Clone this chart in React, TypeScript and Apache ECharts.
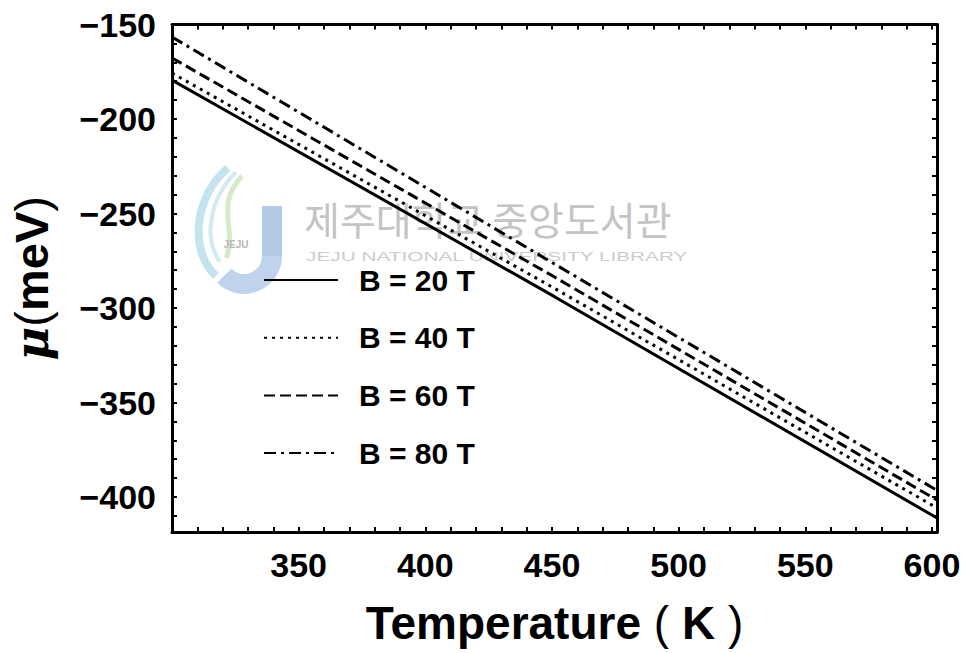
import React, { useEffect, useRef } from "react";
import * as echarts from "echarts";

const temperatures = [300, 451, 602];
const seriesNames = ["B = 20 T", "B = 40 T", "B = 60 T", "B = 80 T"];
const mu20 = [-179.4, -294.0, -411.1];
const mu40 = [-175.7, -289.6, -405.8];
const mu60 = [-167.7, -283.6, -401.6];
const mu80 = [-156.6, -276.7, -396.5];
const xTickLabels = [350, 400, 450, 500, 550, 600];
const yTickLabels = [-400, -350, -300, -250, -200, -150];
const xMinorTicks = [310, 320, 330, 340, 350, 360, 370, 380, 390, 400, 410, 420, 430, 440, 450, 460, 470, 480, 490, 500, 510, 520, 530, 540, 550, 560, 570, 580, 590, 600];
const yMinorTicks = [-410, -400, -390, -380, -370, -360, -350, -340, -330, -320, -310, -300, -290, -280, -270, -260, -250, -240, -230, -220, -210, -200, -190, -180, -170, -160];

const allSeries = [mu20, mu40, mu60, mu80];
const dashTypes: any[] = ["solid", [3, 5], [11, 5], [12, 5, 3, 5]];

export default function App() {
  const ref = useRef<HTMLDivElement>(null);
  useEffect(() => {
    if (!ref.current) return;
    const chart = echarts.init(ref.current, undefined, { renderer: "svg" });
    const font = "'Liberation Sans', Arial, sans-serif";
    const axisLine = { show: true, lineStyle: { color: "#000", width: 3 } };
    const tick = (vals: number[]) => ({ show: true, inside: true, length: 5, lineStyle: { color: "#000", width: 2 }, customValues: vals });
    const option: any = {
      animation: false,
      backgroundColor: "#fff",
      grid: { left: 172, top: 24.5, width: 765, height: 507.5, containLabel: false, outerBoundsMode: "none" },
      xAxis: [
        {
          type: "value",
          min: 300,
          max: 602,
          position: "bottom",
          axisLine,
          splitLine: { show: false },
          axisTick: tick(xMinorTicks),
          axisLabel: {
            customValues: xTickLabels,
            color: "#000",
            fontSize: 34,
            fontWeight: "bold",
            fontFamily: font,
            margin: 16,
          },
          name: "{b|Temperature}{p| ( }{b|K}{p| )}",
          nameLocation: "middle",
          nameGap: 68,
          nameTextStyle: {
            rich: {
              b: { fontSize: 46, fontWeight: "bold", fontFamily: font, color: "#000" },
              p: { fontSize: 46, fontWeight: "normal", fontFamily: font, color: "#000" },
            },
          },
        },
        {
          type: "value",
          min: 300,
          max: 602,
          position: "top",
          axisLine,
          splitLine: { show: false },
          axisTick: tick(xMinorTicks),
          axisLabel: { show: false },
        },
      ],
      yAxis: [
        {
          type: "value",
          min: -418.5,
          max: -150,
          position: "left",
          axisLine,
          splitLine: { show: false },
          axisTick: tick(yMinorTicks),
          axisLabel: {
            customValues: yTickLabels,
            formatter: (v: number) => "\u2212" + Math.abs(v),
            color: "#000",
            fontSize: 34,
            fontWeight: "bold",
            fontFamily: font,
            margin: 16,
          },
          name: "{i|μ}{p|(}{b|meV}{p|)}",
          nameLocation: "middle",
          nameGap: 117,
          nameRotate: 90,
          nameTextStyle: {
            rich: {
              i: { fontSize: 46, fontStyle: "italic", fontWeight: "bold", fontFamily: "'DejaVu Serif', serif", color: "#000" },
              b: { fontSize: 47, fontWeight: "bold", fontFamily: font, color: "#000" },
              p: { fontSize: 47, fontWeight: "normal", fontFamily: font, color: "#000" },
            },
          },
        },
        {
          type: "value",
          min: -418.5,
          max: -150,
          position: "right",
          axisLine,
          splitLine: { show: false },
          axisTick: tick(yMinorTicks),
          axisLabel: { show: false },
        },
      ],
      legend: {
        orient: "vertical",
        left: 263,
        top: 265,
        padding: 0,
        itemWidth: 74,
        itemHeight: 30,
        itemGap: 27.7,
        data: seriesNames,
        itemStyle: { opacity: 0 },
        lineStyle: { width: 2 },
        textStyle: {
          fontSize: 30,
          fontWeight: "bold",
          fontFamily: font,
          color: "#000",
          padding: [0, 0, 0, 16],
        },
      },
      graphic: [
        {
          type: "group",
          silent: true,
          z: -10,
          children: [
            { type: "bezierCurve", shape: { x1: 228, y1: 168, cpx1: 195, cpy1: 195, cpx2: 188, cpy2: 250, x2: 216, y2: 276 }, style: { stroke: "#c4e3ef", lineWidth: 8, fill: null } },
            { type: "bezierCurve", shape: { x1: 236, y1: 172, cpx1: 208, cpy1: 200, cpx2: 204, cpy2: 240, x2: 220, y2: 262 }, style: { stroke: "#d2eaf2", lineWidth: 4, fill: null } },
            { type: "bezierCurve", shape: { x1: 242, y1: 176, cpx1: 214, cpy1: 205, cpx2: 238, cpy2: 232, x2: 226, y2: 258 }, style: { stroke: "#d6e9c8", lineWidth: 5, fill: null } },
            { type: "rect", shape: { x: 262, y: 206, width: 20, height: 52 }, style: { fill: "#b3c9e8" } },
            { type: "arc", shape: { cx: 244, cy: 256, r: 28, startAngle: 0, endAngle: Math.PI * 0.75 }, style: { stroke: "#c0d3ec", lineWidth: 20, fill: null } },
            { type: "text", x: 236, y: 244, style: { text: "JEJU", fontSize: 10, fontWeight: "bold", fontFamily: font, fill: "#b8b8b8", textAlign: "center", textVerticalAlign: "middle" } },
            { type: "text", x: 304, y: 218, style: { text: "제주대학교 중앙도서관", fontSize: 39, fontFamily: "'Noto Sans CJK KR', sans-serif", fill: "#c4c4c4", textVerticalAlign: "middle" } },
            { type: "text", x: 306, y: 257, scaleX: 1.6, style: { text: "JEJU NATIONAL UNIVERSITY LIBRARY", fontSize: 13, fontFamily: font, fill: "#cccccc", textVerticalAlign: "middle" } },
          ],
        },
      ],
      series: allSeries.map((d, i) => ({
        name: seriesNames[i],
        type: "line",
        xAxisIndex: 0,
        yAxisIndex: 0,
        symbol: "none",
        data: temperatures.map((t, j) => [t, d[j]]),
        lineStyle: { color: "#000", width: 3, type: dashTypes[i] },
        itemStyle: { color: "#000" },
        z: 5,
      })),
    };
    chart.setOption(option);
    return () => chart.dispose();
  }, []);
  return <div ref={ref} style={{ position: "fixed", left: 0, top: 0, width: 975, height: 653, background: "#fff" }} />;
}
